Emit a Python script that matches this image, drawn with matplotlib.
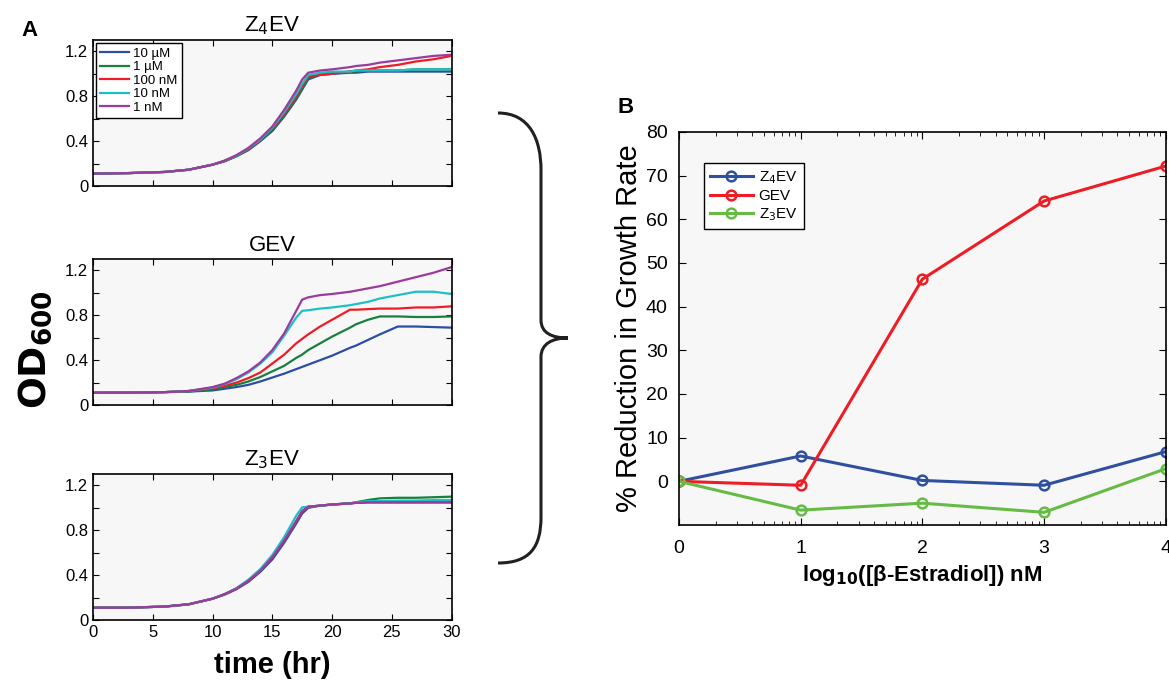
import matplotlib
matplotlib.use('Agg')
import matplotlib.pyplot as plt
from matplotlib.path import Path
from matplotlib.patches import PathPatch
import numpy as np

plt.rcParams['font.family'] = ['Liberation Sans', 'DejaVu Sans']

# time points (hr) shared by all growth curves
t = [0, 3, 6, 8, 10, 11, 12, 13, 14, 15, 16, 17, 17.5, 18, 19, 20, 21.5, 22, 23, 24, 25.5, 27, 28.5, 30]

doses = ['10 µM', '1 µM', '100 nM', '10 nM', '1 nM']
dose_colors = ['#2b4da3', '#17803c', '#ee1c24', '#1fbfc6', '#9b3b9e']

# Z4EV OD600
z4_blue   = [0.11,0.115,0.125,0.145,0.19,0.22,0.265,0.32,0.40,0.49,0.62,0.77,0.86,0.95,0.99,1.00,1.01,1.01,1.02,1.02,1.02,1.02,1.02,1.02]
z4_green  = [0.11,0.115,0.125,0.145,0.19,0.22,0.265,0.325,0.405,0.50,0.63,0.78,0.87,0.96,1.00,1.01,1.02,1.02,1.03,1.03,1.03,1.04,1.04,1.04]
z4_red    = [0.11,0.115,0.125,0.145,0.19,0.225,0.27,0.33,0.41,0.51,0.645,0.80,0.89,0.98,0.99,1.00,1.02,1.03,1.04,1.06,1.08,1.11,1.13,1.16]
z4_cyan   = [0.11,0.115,0.125,0.145,0.19,0.225,0.27,0.335,0.415,0.52,0.66,0.82,0.91,0.99,1.01,1.02,1.02,1.03,1.03,1.03,1.03,1.04,1.04,1.04]
z4_purple = [0.11,0.115,0.125,0.145,0.19,0.225,0.275,0.34,0.425,0.53,0.68,0.85,0.95,1.01,1.03,1.04,1.06,1.07,1.08,1.10,1.12,1.14,1.16,1.17]

# GEV OD600
gev_blue   = [0.11,0.11,0.115,0.12,0.13,0.145,0.16,0.18,0.21,0.245,0.28,0.32,0.34,0.36,0.40,0.44,0.51,0.53,0.58,0.63,0.70,0.70,0.695,0.69]
gev_green  = [0.11,0.11,0.115,0.12,0.14,0.16,0.18,0.21,0.25,0.30,0.35,0.42,0.45,0.49,0.55,0.61,0.69,0.72,0.76,0.79,0.79,0.785,0.785,0.79]
gev_red    = [0.11,0.11,0.115,0.125,0.15,0.17,0.20,0.24,0.29,0.37,0.45,0.55,0.59,0.63,0.70,0.76,0.85,0.85,0.855,0.86,0.86,0.87,0.87,0.88]
gev_cyan   = [0.11,0.11,0.115,0.125,0.155,0.185,0.23,0.29,0.37,0.47,0.62,0.78,0.84,0.845,0.86,0.87,0.89,0.90,0.92,0.95,0.98,1.01,1.01,0.99]
gev_purple = [0.11,0.11,0.115,0.125,0.16,0.19,0.24,0.30,0.38,0.49,0.64,0.84,0.94,0.96,0.98,0.99,1.01,1.02,1.04,1.06,1.10,1.14,1.18,1.23]

# Z3EV OD600
z3_blue   = [0.11,0.11,0.12,0.14,0.19,0.225,0.275,0.34,0.43,0.54,0.69,0.86,0.95,1.00,1.02,1.03,1.04,1.045,1.05,1.05,1.05,1.05,1.05,1.05]
z3_green  = [0.11,0.11,0.12,0.14,0.19,0.23,0.28,0.35,0.44,0.56,0.71,0.88,0.97,1.01,1.02,1.03,1.04,1.05,1.07,1.085,1.09,1.09,1.095,1.10]
z3_red    = [0.11,0.11,0.12,0.14,0.19,0.23,0.28,0.35,0.44,0.56,0.71,0.88,0.97,1.01,1.02,1.03,1.04,1.045,1.05,1.05,1.05,1.05,1.05,1.05]
z3_cyan   = [0.11,0.11,0.12,0.14,0.19,0.23,0.285,0.36,0.455,0.58,0.74,0.93,1.005,1.01,1.02,1.03,1.04,1.05,1.06,1.06,1.065,1.065,1.07,1.07]
z3_purple = [0.11,0.11,0.12,0.14,0.19,0.23,0.28,0.35,0.44,0.56,0.71,0.88,0.97,1.01,1.02,1.03,1.04,1.045,1.05,1.05,1.05,1.05,1.05,1.05]

# panel B: % reduction in growth rate
log_conc = [0, 1, 2, 3, 4]
red_z4  = [0, 5.8, 0.2, -0.9, 6.8]
red_gev = [0, -0.9, 46.3, 64.2, 72.2]
red_z3  = [0, -6.6, -5.0, -7.1, 2.9]

fig = plt.figure(figsize=(11.69, 6.86), dpi=100)
bg = '#f7f7f7'

panels = [
    ('Z$_4$EV', [z4_blue, z4_green, z4_red, z4_cyan, z4_purple], 0.7289),
    ('GEV', [gev_blue, gev_green, gev_red, gev_cyan, gev_purple], 0.4096),
    ('Z$_3$EV', [z3_blue, z3_green, z3_red, z3_cyan, z3_purple], 0.0962),
]

for i, (title, series, bottom) in enumerate(panels):
    ax = fig.add_axes([0.0796, bottom, 0.3067, 0.2125])
    ax.set_facecolor(bg)
    for vals, lab, col in zip(series, doses, dose_colors):
        ax.plot(t, vals, color=col, lw=1.6, label=lab)
    ax.set_xlim(0, 30)
    ax.set_ylim(0, 1.3)
    ax.set_xticks(np.arange(0, 31, 5))
    ax.set_yticks([0, 0.2, 0.4, 0.6, 0.8, 1.0, 1.2])
    ax.set_yticklabels(['0', '', '0.4', '', '0.8', '', '1.2'])
    ax.tick_params(direction='in', top=True, right=True, labelsize=12, length=4)
    if i < 2:
        ax.set_xticklabels([])
    ax.set_title(title, fontsize=16, pad=6)
    for sp in ax.spines.values():
        sp.set_linewidth(1.2)
    if i == 0:
        ax.legend(loc='upper left', fontsize=9.5, frameon=True, fancybox=False,
                  edgecolor='black', handlelength=2.2, labelspacing=0.1,
                  borderpad=0.3, handletextpad=0.3, borderaxespad=0.25,
                  facecolor='white', framealpha=1)
    if i == 2:
        ax.set_xlabel('time (hr)', fontsize=21, fontweight='bold', labelpad=8)

fig.text(0.03, 0.49, r'$\mathbf{OD_{600}}$', rotation=90, fontsize=27,
         ha='center', va='center')
fig.text(0.018, 0.955, 'A', fontsize=16, fontweight='bold', va='center')
fig.text(0.528, 0.843, 'B', fontsize=16, fontweight='bold', va='center')

# curly brace joining the panels
W, H = 1169.0, 686.0
pts = [(498, 113), (530, 113), (541, 140), (541, 170),
       (541, 320),
       (541, 333), (552, 338), (568, 338),
       (552, 338), (541, 344), (541, 357),
       (541, 517),
       (541, 547), (530, 563), (498, 563)]
codes = [Path.MOVETO, Path.CURVE4, Path.CURVE4, Path.CURVE4,
         Path.LINETO,
         Path.CURVE4, Path.CURVE4, Path.CURVE4,
         Path.CURVE4, Path.CURVE4, Path.CURVE4,
         Path.LINETO,
         Path.CURVE4, Path.CURVE4, Path.CURVE4]
brace = Path([(x / W, 1 - y / H) for x, y in pts], codes)
fig.add_artist(PathPatch(brace, transform=fig.transFigure, fill=False,
                         lw=2.2, edgecolor='#231f20', capstyle='butt'))

# panel B
axb = fig.add_axes([0.5808, 0.2347, 0.4165, 0.5729])
axb.set_facecolor(bg)
conc = [10.0 ** v for v in log_conc]
axb.plot(conc, red_z4, '-o', color='#2f4f9f', lw=2.2, ms=7, mfc='none', mew=1.8, label='Z$_4$EV')
axb.plot(conc, red_gev, '-o', color='#ee1c24', lw=2.2, ms=7, mfc='none', mew=1.8, label='GEV')
axb.plot(conc, red_z3, '-o', color='#66bb44', lw=2.2, ms=7, mfc='none', mew=1.8, label='Z$_3$EV')
axb.set_xscale('log')
axb.set_xlim(1, 1e4)
axb.set_ylim(-10, 80)
axb.set_xticks(conc)
axb.set_xticklabels([str(v) for v in log_conc])
axb.set_yticks(np.arange(0, 81, 10))
axb.tick_params(which='both', direction='in', top=True, right=True, labelsize=14)
axb.tick_params(which='major', length=5, pad=8)
axb.tick_params(which='minor', length=3)
axb.tick_params(axis='x', which='major', pad=11)
for sp in axb.spines.values():
    sp.set_linewidth(1.2)
axb.set_ylabel('% Reduction in Growth Rate', fontsize=21, labelpad=2)
axb.set_xlabel('log$_{\\mathbf{10}}$([β-Estradiol]) nM', fontsize=16, fontweight='bold', labelpad=4)
axb.legend(loc='upper left', bbox_to_anchor=(0.035, 0.94), fontsize=11, frameon=True,
           fancybox=False, edgecolor='black', facecolor='white', framealpha=1,
           handlelength=2.8, labelspacing=0.2, borderpad=0.4, handletextpad=0.4)

fig.savefig('out.png', dpi=100)
